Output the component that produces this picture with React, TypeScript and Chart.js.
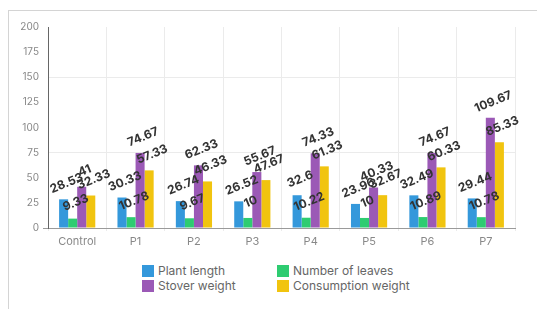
import React, { useEffect, useRef } from "react";
import { Chart, registerables } from "chart.js";

Chart.register(...registerables);

const categories = ["Control", "P1", "P2", "P3", "P4", "P5", "P6", "P7"];
const plantLength = [28.53, 30.33, 26.74, 26.52, 32.6, 23.96, 32.49, 29.44];
const numberOfLeaves = [9.33, 10.78, 9.67, 10, 10.22, 10, 10.89, 10.78];
const stoverWeight = [41, 74.67, 62.33, 55.67, 74.33, 40.33, 74.67, 109.67];
const consumptionWeight = [32.33, 57.33, 46.33, 47.67, 61.33, 32.67, 60.33, 85.33];
const seriesNames = ["Plant length", "Number of leaves", "Stover weight", "Consumption weight"];
const seriesColors = ["#3498db", "#2ecc71", "#9b59b6", "#f1c40f"];
const yTicks = [0, 25, 50, 75, 100, 125, 150, 175, 200];

const FONT = "Inter, 'Open Sans', sans-serif";

const labelPlugin = {
  id: "barLabels",
  afterDatasetsDraw(chart: any) {
    const ctx = chart.ctx;
    ctx.save();
    ctx.font = `bold 12px ${FONT}`;
    ctx.fillStyle = "#333333";
    ctx.textAlign = "center";
    ctx.textBaseline = "middle";
    chart.data.datasets.forEach((ds: any, i: number) => {
      const meta = chart.getDatasetMeta(i);
      meta.data.forEach((el: any, j: number) => {
        const v = ds.data[j];
        ctx.save();
        ctx.translate(el.x + 3, el.y - 16);
        ctx.rotate((-22 * Math.PI) / 180);
        ctx.fillText(String(v), 0, 0);
        ctx.restore();
      });
    });
    ctx.restore();
  },
};

export default function App() {
  const ref = useRef<HTMLCanvasElement | null>(null);

  useEffect(() => {
    if (!ref.current) return;
    const data = [plantLength, numberOfLeaves, stoverWeight, consumptionWeight];
    const chart = new Chart(ref.current, {
      type: "bar",
      data: {
        labels: categories,
        datasets: seriesNames.map((name, i) => ({
          label: name,
          data: data[i],
          backgroundColor: seriesColors[i],
          borderColor: seriesColors[i],
          borderWidth: 0,
          categoryPercentage: 0.62,
          barPercentage: 1,
        })),
      },
      options: {
        responsive: false,
        animation: false,
        layout: { padding: { top: 16, right: 22, left: 0, bottom: 0 } },
        plugins: {
          legend: { display: false },
          tooltip: { enabled: false },
        },
        scales: {
          x: {
            grid: {
              color: "#ebebeb",
              offset: true,
              tickLength: 3,
              drawTicks: true,
            },
            border: { color: "#9a9a9a", width: 1 },
            ticks: {
              color: "#888888",
              font: { family: FONT, size: 11 },
              padding: 4,
            },
            afterFit: (s: any) => {
              s.height = 33;
            },
          },
          y: {
            min: 0,
            max: 200,
            afterBuildTicks: (s: any) => {
              s.ticks = yTicks.map((v) => ({ value: v }));
            },
            grid: {
              color: (c: any) =>
                c.tick && c.tick.value > 0 && c.tick.value % 75 === 0 ? "#ebebeb" : "transparent",
              tickColor: (c: any) => (c.tick && c.tick.value === 0 ? "#9a9a9a" : "transparent"),
              tickLength: 5,
            },
            border: { color: "#666666", width: 1 },
            ticks: {
              color: "#888888",
              font: { family: FONT, size: 10 },
              padding: 4,
            },
            afterFit: (s: any) => {
              s.width = 39;
            },
          },
        },
      },
      plugins: [labelPlugin],
    });
    return () => chart.destroy();
  }, []);

  return (
    <div
      style={{
        position: "absolute",
        left: 8,
        top: 10,
        width: 540,
        height: 300,
        borderTop: "1px solid #d4d4d4",
        borderLeft: "1px solid #d4d4d4",
        fontFamily: FONT,
      }}
    >
      <canvas
        ref={ref}
        width={528}
        height={250}
        style={{ position: "absolute", left: 0, top: 0, width: 528, height: 250 }}
      />
      <div
        style={{
          position: "absolute",
          left: 133,
          top: 254,
          display: "grid",
          gridTemplateColumns: "135px 150px",
          rowGap: 3,
        }}
      >
        {seriesNames.map((name, i) => (
          <div key={name} style={{ display: "flex", alignItems: "center", height: 12 }}>
            <span
              style={{
                display: "inline-block",
                width: 12,
                height: 12,
                background: seriesColors[i],
                marginRight: 4,
              }}
            />
            <span style={{ fontSize: 12, color: "#666666", lineHeight: "12px" }}>{name}</span>
          </div>
        ))}
      </div>
    </div>
  );
}
